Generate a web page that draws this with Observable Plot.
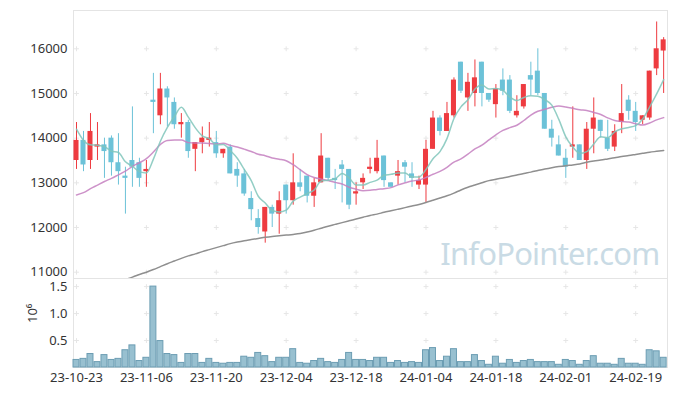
<!DOCTYPE html>
<html><head><meta charset="utf-8">
<script src="https://cdn.jsdelivr.net/npm/d3@7"></script>
<script src="https://cdn.jsdelivr.net/npm/@observablehq/plot@0.6"></script>
<style>
body{margin:0;background:#fff;}
#chart{position:relative;width:677px;height:396px;overflow:hidden;background:#fff;}
#chart svg{display:block;}
</style></head><body><div id="chart"></div>
<script>
const dates = [
"23-10-23","23-10-24","23-10-25","23-10-26","23-10-27","23-10-30","23-10-31","23-11-01","23-11-02","23-11-03",
"23-11-06","23-11-07","23-11-08","23-11-09","23-11-10","23-11-13","23-11-14","23-11-15","23-11-16","23-11-17",
"23-11-20","23-11-21","23-11-22","23-11-23","23-11-24","23-11-27","23-11-28","23-11-29","23-11-30","23-12-01",
"23-12-04","23-12-05","23-12-06","23-12-07","23-12-08","23-12-11","23-12-12","23-12-13","23-12-14","23-12-15",
"23-12-18","23-12-19","23-12-20","23-12-21","23-12-22","23-12-26","23-12-27","23-12-28","24-01-02","24-01-03",
"24-01-04","24-01-05","24-01-08","24-01-09","24-01-10","24-01-11","24-01-12","24-01-15","24-01-16","24-01-17",
"24-01-18","24-01-19","24-01-22","24-01-23","24-01-24","24-01-25","24-01-26","24-01-29","24-01-30","24-01-31",
"24-02-01","24-02-02","24-02-05","24-02-06","24-02-07","24-02-08","24-02-13","24-02-14","24-02-15","24-02-16",
"24-02-19","24-02-20","24-02-21","24-02-22","24-02-23"];
const open = [
13500,13950,13500,13800,13850,14000,13450,13150,13500,13450,
13250,14850,14500,15100,14800,14300,14350,13750,13900,13950,
13900,13650,13800,13300,13200,12650,12200,11900,12450,12300,
12950,12600,13000,13150,12700,13000,13550,13100,13400,13300,
12750,13000,13300,13250,13600,13000,13150,13450,13200,12950,
12950,13750,14450,14150,14500,15700,14900,15000,15700,15000,
14750,15300,15300,14500,14700,15400,15500,15000,14200,13850,
13550,13800,13850,13500,14200,14400,14000,13800,14350,14850,
14600,14400,14450,15550,15950];
const high = [
14350,14150,14550,14350,14000,14050,14100,13350,14700,13550,
13500,15450,15450,15150,14900,14550,14400,13900,14250,14350,
14150,13750,13850,13450,13300,12800,12400,12450,12500,12800,
12950,13650,13300,13150,13100,14100,13550,13300,13500,13300,
13000,13200,13550,13950,13600,13000,13500,13500,13450,13150,
13950,14600,14500,14800,15350,15700,15450,15750,15700,15000,
15200,15550,15400,14950,15200,15700,16000,15000,14400,14050,
13750,14700,13850,14350,14900,14400,14400,14300,15200,14950,
14800,14500,15500,16600,16250];
const low = [
13300,13250,13300,13500,13100,13150,12950,12300,12900,12900,
12900,14100,14300,14250,14200,14000,13550,13250,13650,13800,
13550,13550,13200,12900,12700,12150,11850,11650,12000,11850,
12300,12500,12800,12550,12450,13000,13050,12850,12550,12400,
12500,12850,13200,13200,12900,12900,12950,13000,12900,12850,
12550,13750,14050,14150,14450,15000,14600,14700,14700,14800,
14450,14950,14550,14450,14650,14950,14950,14200,13800,13600,
13100,13550,13500,13300,13650,14000,13700,13700,14100,14400,
14150,14300,14400,15400,15000];
const close = [
13950,13400,14150,13850,13700,13450,13250,13100,13350,13100,
13300,14800,15100,14900,14300,14350,13700,13900,14000,14000,
13650,13750,13200,13150,12750,12400,12000,12450,12300,12600,
12600,13000,12900,12700,13000,13600,13100,13050,13300,12500,
12800,13100,13350,13550,13050,12900,13250,13350,13100,13050,
13750,14450,14150,14550,15300,15050,15250,15350,15000,14850,
15100,15050,14600,14600,15200,15300,15000,14200,14000,13600,
13350,13850,13500,14200,14450,14150,13750,14150,14550,14600,
14350,14500,15500,16000,16200];
const volume = [
0.14,0.16,0.25,0.10,0.23,0.14,0.16,0.32,0.41,0.12,
0.18,1.50,0.49,0.25,0.23,0.085,0.25,0.25,0.085,0.16,
0.085,0.07,0.085,0.085,0.20,0.18,0.27,0.21,0.10,0.18,
0.18,0.34,0.085,0.07,0.12,0.16,0.10,0.085,0.14,0.27,
0.14,0.14,0.12,0.18,0.18,0.085,0.12,0.085,0.10,0.085,
0.32,0.36,0.12,0.20,0.34,0.10,0.10,0.23,0.12,0.05,
0.20,0.07,0.14,0.085,0.12,0.14,0.10,0.10,0.10,0.05,
0.14,0.12,0.05,0.12,0.21,0.07,0.07,0.05,0.16,0.07,
0.07,0.05,0.32,0.30,0.18];
const ma5 = [
14200,13950,13850,13840,13810,13710,13680,13470,13370,13250,
13220,13530,13930,14240,14480,14690,14470,14230,14050,13990,
13850,13860,13720,13550,13300,13050,12700,12550,12380,12350,
12390,12590,12680,12760,12840,13040,13060,13090,13210,13110,
12950,12950,13010,13060,13170,13190,13220,13220,13130,13130,
13300,13540,13700,13990,14440,14700,14860,15100,15190,15100,
15110,15070,14920,14840,14910,14950,14940,14860,14740,14420,
14030,13800,13660,13700,13870,14030,14010,14140,14210,14240,
14280,14430,14700,14990,15310];
const ma20 = [
12730,12780,12870,12950,13030,13100,13180,13260,13370,13450,
13540,13690,13860,13950,13960,13960,13900,13890,13890,13883,
13868,13885,13838,13803,13755,13703,13640,13608,13555,13530,
13495,13405,13295,13185,13120,13083,13053,13010,12975,12900,
12858,12825,12833,12853,12868,12893,12955,13000,13040,13063,
13120,13193,13255,13348,13463,13535,13643,13758,13843,13960,
14075,14173,14235,14288,14395,14515,14603,14645,14690,14718,
14698,14668,14635,14618,14575,14530,14455,14395,14373,14360,
14323,14295,14340,14410,14460];
const ma60 = [
10450,10510,10570,10630,10690,10740,10790,10840,10890,10950,
11000,11060,11125,11190,11250,11310,11365,11410,11460,11505,
11550,11595,11640,11675,11705,11730,11755,11780,11800,11815,
11830,11845,11865,11900,11940,11985,12030,12070,12110,12150,
12190,12230,12270,12300,12340,12375,12410,12445,12480,12515,
12560,12610,12660,12710,12770,12840,12900,12950,13000,13050,
13080,13110,13140,13175,13210,13240,13275,13310,13340,13365,
13385,13400,13420,13460,13490,13510,13535,13560,13590,13610,
13635,13660,13685,13705,13725];
const xTickLabels = ["23-10-23","23-11-06","23-11-20","23-12-04","23-12-18","24-01-04","24-01-18","24-02-01","24-02-19"];
const priceTicks = [11000,12000,13000,14000,15000,16000];
const volumeTicks = [0.5,1.0,1.5];

const UP = "#ee3b40", DOWN = "#6cc2d8";
const data = dates.map((d, i) => ({i, date: d, open: open[i], high: high[i], low: low[i], close: close[i],
  volume: volume[i], ma5: ma5[i], ma20: ma20[i], ma60: ma60[i], color: close[i] >= open[i] ? UP : DOWN}));
const xTicks = xTickLabels.map(l => dates.indexOf(l));
const xDomain = [-0.43, 84.55];
const chartStyle = {fontFamily: "'Noto Sans', sans-serif", fontSize: "13px", color: "#333", background: "white", overflow: "visible"};

const priceChart = Plot.plot({
  width: 677, height: 278, marginLeft: 73, marginRight: 10, marginTop: 10, marginBottom: 0,
  style: chartStyle,
  x: {domain: xDomain, axis: null},
  y: {domain: [10859, 16857], ticks: priceTicks, tickFormat: d => String(d), tickSize: 0, tickPadding: 6, label: null},
  marks: [
    Plot.frame({stroke: "#e4e4e4"}),
    Plot.dot(d3.cross(xTicks, priceTicks), {x: d => d[0], y: d => d[1], symbol: "plus", r: 1.7, stroke: "#e6e6e6", strokeWidth: 1}),
    Plot.text(["InfoPointer.com"], {frameAnchor: "bottom-right", textAnchor: "end", lineAnchor: "middle", dx: -8, dy: -23, fontSize: 31, fill: "#c9dbe5"}),
    Plot.ruleX(data, {x: "i", y1: "low", y2: "high", stroke: "color", strokeWidth: 1}),
    Plot.rect(data, {x1: d => d.i - 0.36, x2: d => d.i + 0.36, y1: "open", y2: "close", fill: "color"}),
    Plot.line(data, {x: "i", y: "ma60", stroke: "#8f8f8f", strokeWidth: 1.5, curve: "monotone-x", clip: true}),
    Plot.line(data, {x: "i", y: "ma20", stroke: "#c47fc0", strokeOpacity: 0.85, strokeWidth: 1.5, curve: "monotone-x", clip: true}),
    Plot.line(data, {x: "i", y: "ma5", stroke: "#80c6bb", strokeOpacity: 0.85, strokeWidth: 1.5, curve: "monotone-x", clip: true})
  ]
});
d3.select(priceChart).selectAll("text").filter(function(){ return this.textContent === "InfoPointer.com"; })
  .style("letter-spacing", "-0.8px");

const volumeChart = Plot.plot({
  width: 677, height: 118, marginLeft: 73, marginRight: 10, marginTop: 0, marginBottom: 29,
  style: chartStyle,
  x: {domain: xDomain, ticks: xTicks, tickFormat: i => dates[i], tickSize: 0, tickPadding: 5, label: null},
  y: {domain: [0, 1.65], ticks: volumeTicks, tickFormat: d3.format(".1f"), tickSize: 0, tickPadding: 6, label: null},
  marks: [
    Plot.frame({stroke: "#e4e4e4"}),
    Plot.dot(d3.cross(xTicks, volumeTicks), {x: d => d[0], y: d => d[1], symbol: "plus", r: 1.7, stroke: "#e6e6e6", strokeWidth: 1}),
    Plot.rect(data, {x1: d => d.i - 0.5, x2: d => d.i + 0.5, y1: 0, y2: "volume", fill: "#98c0d0", stroke: "#6c9db3", strokeWidth: 1, insetLeft: 0.5, insetRight: 0.5}),
    Plot.text(["10⁶"], {frameAnchor: "left", dx: -41, rotate: -90, fontSize: 13, fill: "#333"})
  ]
});

const chartDiv = document.getElementById("chart");
chartDiv.appendChild(priceChart);
chartDiv.appendChild(volumeChart);
</script>
</body></html>
